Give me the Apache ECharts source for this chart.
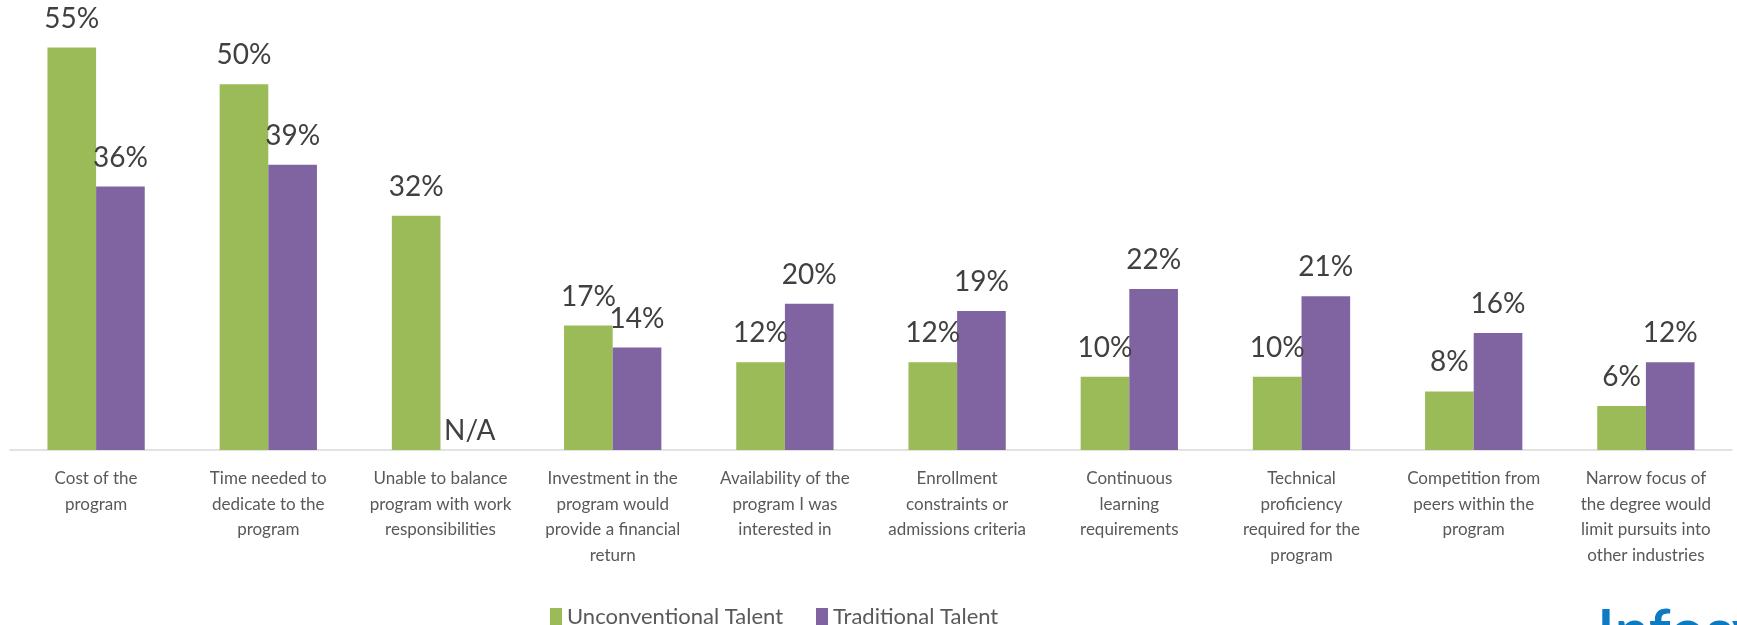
<!DOCTYPE html>
<html>
<head>
<meta charset="utf-8">
<script src="https://cdn.jsdelivr.net/npm/echarts@6/dist/echarts.min.js"></script>
<style>
  html, body { margin: 0; padding: 0; background: #ffffff; }
  #chart { width: 1737px; height: 625px; }
</style>
</head>
<body>
<div id="chart"></div>
<script>
// Barriers to enrolling in a degree program, by talent group (% of respondents)
const categories = [
  ['Cost of the', 'program'],
  ['Time needed to', 'dedicate to the', 'program'],
  ['Unable to balance', 'program with work', 'responsibilities'],
  ['Investment in the', 'program would', 'provide a financial', 'return'],
  ['Availability of the', 'program I was', 'interested in'],
  ['Enrollment', 'constraints or', 'admissions criteria'],
  ['Continuous', 'learning', 'requirements'],
  ['Technical', 'proficiency', 'required for the', 'program'],
  ['Competition from', 'peers within the', 'program'],
  ['Narrow focus of', 'the degree would', 'limit pursuits into', 'other industries']
];
const seriesNames = ['Unconventional Talent', 'Traditional Talent'];
const unconventional = [55, 50, 32, 17, 12, 12, 10, 10, 8, 6];
// Traditional talent was not asked about work balance: shown as N/A
const traditional = [36, 39, null, 14, 20, 19, 22, 21, 16, 12];
const notAskedIndex = 2;
const notAskedText = 'N/A';

const GREEN = '#9BBB59';
const PURPLE = '#8064A2';
const FONT = 'Lato, "Open Sans", sans-serif';

const chart = echarts.init(document.getElementById('chart'), null, { renderer: 'canvas' });

const valueLabel = {
  show: true,
  position: 'top',
  distance: 15,
  formatter: p => p.value + '%',
  fontFamily: FONT,
  fontSize: 28,
  color: '#404040'
};

chart.setOption({
  animation: false,
  backgroundColor: '#ffffff',
  textStyle: { fontFamily: FONT },
  grid: { left: 10, right: 5, top: 11, bottom: 175, containLabel: false },
  legend: {
    data: seriesNames,
    left: 545,
    top: 601,
    itemWidth: 12,
    itemHeight: 18,
    itemGap: 33,
    icon: 'rect',
    textStyle: { fontFamily: FONT, fontSize: 22, color: '#595959' }
  },
  xAxis: {
    type: 'category',
    data: categories.map(lines => lines.join('\n')),
    axisLine: { show: true, lineStyle: { color: '#d9d9d9', width: 1.5 } },
    axisTick: { show: false },
    axisLabel: {
      interval: 0,
      margin: 16,
      fontFamily: FONT,
      fontSize: 17,
      lineHeight: 25.5,
      color: '#595959',
      align: 'center',
      verticalAlign: 'top'
    }
  },
  yAxis: {
    type: 'value',
    min: 0,
    max: 60,
    show: false,
    splitLine: { show: false }
  },
  series: [
    {
      name: seriesNames[0],
      type: 'bar',
      data: unconventional,
      itemStyle: { color: GREEN },
      barGap: '0%',
      barCategoryGap: '43.5%',
      label: valueLabel
    },
    {
      name: seriesNames[1],
      type: 'bar',
      data: traditional,
      itemStyle: { color: PURPLE },
      barGap: '0%',
      barCategoryGap: '43.5%',
      label: valueLabel,
      markPoint: {
        symbol: 'circle',
        symbolSize: 1,
        itemStyle: { color: 'rgba(0,0,0,0)' },
        data: [{ coord: [notAskedIndex, 0], value: 0 }],
        label: {
          show: true,
          position: 'inside',
          offset: [5, -19],
          formatter: notAskedText,
          fontFamily: FONT,
          fontSize: 28,
          color: '#404040'
        }
      }
    }
  ],
  graphic: [
    {
      type: 'text',
      left: 1597,
      top: 602,
      silent: true,
      style: {
        text: 'Infosys',
        font: '600 62px Lato, sans-serif',
        fill: '#0D7BC4'
      }
    }
  ]
});
</script>
</body>
</html>
